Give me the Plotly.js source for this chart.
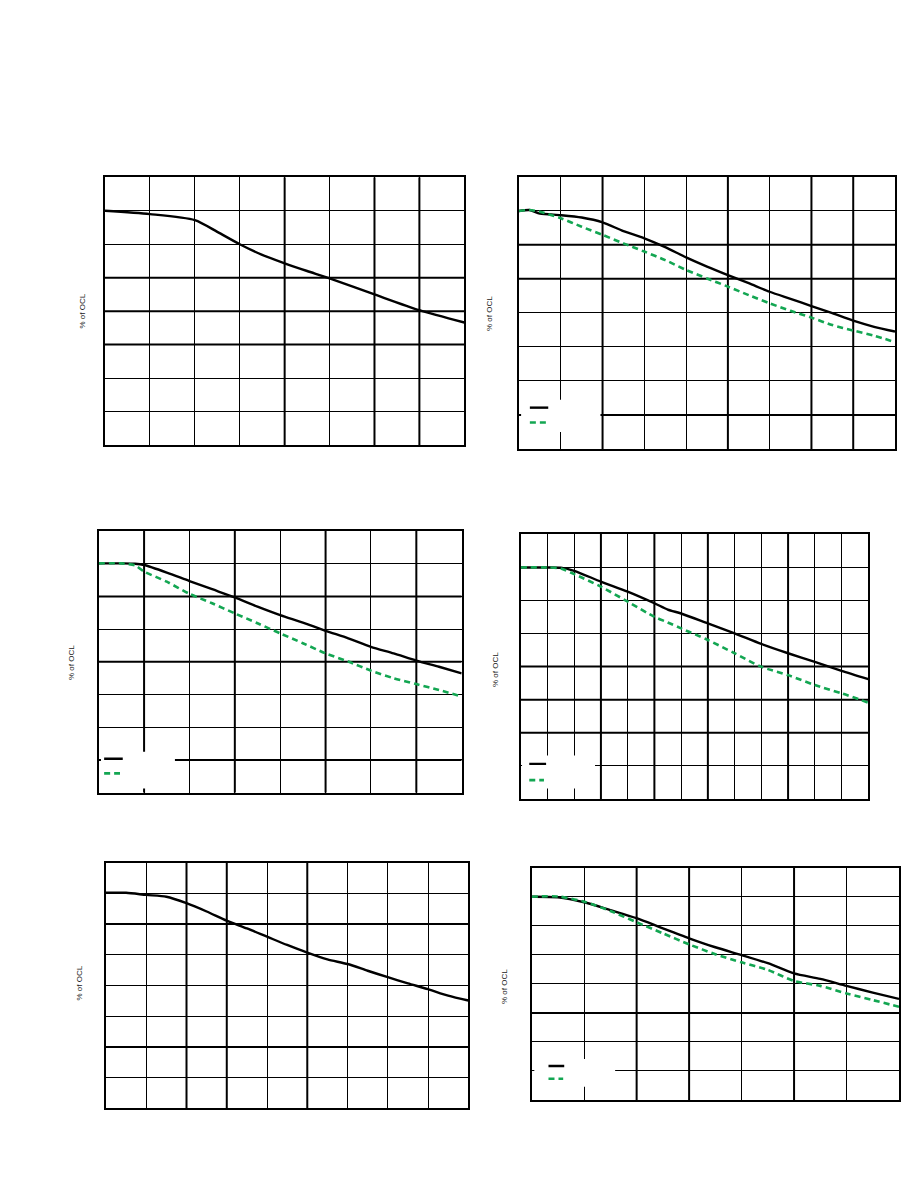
<!DOCTYPE html>
<html><head><meta charset="utf-8">
<script src="https://cdn.plot.ly/plotly-3.0.1.min.js"></script>
<style>html,body{margin:0;padding:0;background:#fff}#chart{width:918px;height:1188px}</style>
</head><body><div id="chart"></div>
<script>
// ---- data (y in grid-row units, x in grid-column units) ----
const yTitle = "% of OCL";

const p1X     = [0, 1, 2, 2.5, 3, 3.5, 4, 4.5, 5, 6, 7, 8];
const p1Solid = [7.0, 6.9, 6.72, 6.37, 6.0, 5.68, 5.43, 5.2, 4.98, 4.5, 4.03, 3.66];

const p2X     = [0, 0.25, 0.5, 1, 1.5, 2, 2.5, 3, 3.5, 4, 4.5, 5, 5.5, 6, 6.5, 7, 7.5, 8, 8.5, 9];
const p2Solid = [6.99, 7.02, 6.92, 6.87, 6.80, 6.66, 6.40, 6.19, 5.93, 5.63, 5.36, 5.11, 4.87, 4.62, 4.41, 4.20, 3.99, 3.77, 3.59, 3.45];
const p2Dash  = [6.99, 7.02, 6.97, 6.78, 6.53, 6.29, 6.04, 5.80, 5.55, 5.26, 5.01, 4.77, 4.52, 4.28, 4.06, 3.86, 3.64, 3.48, 3.33, 3.14];

const p3X     = [0, 0.5, 0.8, 1, 1.5, 2, 2.5, 3, 3.5, 4, 4.5, 5, 5.5, 6, 6.5, 7, 7.5, 8];
const p3Solid = [7.01, 7.01, 7.0, 6.96, 6.73, 6.47, 6.22, 5.97, 5.69, 5.43, 5.20, 4.95, 4.72, 4.46, 4.26, 4.04, 3.85, 3.65];
const p3Dash  = [7.01, 7.01, 6.95, 6.76, 6.45, 6.08, 5.79, 5.48, 5.18, 4.87, 4.57, 4.26, 4.01, 3.73, 3.50, 3.32, 3.14, 2.94];

const p4X     = [0, 1, 1.5, 2, 3, 4, 5, 5.5, 6, 7, 8, 9, 10, 11, 12, 13];
const p4Solid = [6.99, 6.99, 6.98, 6.89, 6.56, 6.26, 5.91, 5.72, 5.60, 5.30, 5.00, 4.68, 4.40, 4.14, 3.87, 3.62];
const p4Dash  = [6.99, 6.99, 6.96, 6.79, 6.41, 5.96, 5.50, 5.33, 5.15, 4.80, 4.40, 3.99, 3.74, 3.44, 3.19, 2.91];

const p5X     = [0, 0.5, 1, 1.5, 2, 2.5, 3, 3.5, 4, 4.5, 5, 5.5, 6, 6.5, 7, 7.5, 8, 8.5, 9];
const p5Solid = [7.02, 7.02, 6.95, 6.89, 6.68, 6.41, 6.11, 5.86, 5.59, 5.32, 5.07, 4.85, 4.70, 4.48, 4.27, 4.07, 3.88, 3.67, 3.51];

const p6X     = [0, 0.5, 1, 1.5, 2, 2.5, 3, 3.5, 4, 4.5, 5, 5.5, 6, 6.5, 7];
const p6Solid = [7.00, 6.98, 6.81, 6.54, 6.26, 5.91, 5.57, 5.26, 4.99, 4.71, 4.36, 4.17, 3.93, 3.70, 3.48];
const p6Dash  = [7.00, 7.01, 6.83, 6.51, 6.12, 5.74, 5.36, 5.02, 4.74, 4.48, 4.10, 3.93, 3.67, 3.44, 3.21];

// ---- layout configuration ----
const W = 918, H = 1188;
const BLACK = "#000000", GREEN = "#13a652";
const DASH = "6px,4px";
const panels = [
  {x: p1X, s: p1Solid, d: null,   cols: 8,  px: [105, 464.3], py: [177.3, 445],   thX: [4, 6, 7], thY: [3, 4, 5], ttl: [81.5, 311], leg: null},
  {x: p2X, s: p2Solid, d: p2Dash, cols: 9,  px: [519, 895],   py: [176.7, 449],   thX: [2, 5, 7, 8], thY: [1, 5, 6], ttl: [490, 313],
   leg: {box: [0.05, 1.95, 0.5, 1.45], sx: [0.26, 0.70], sy: 1.215, dx: [0.26, 0.66], dy: 0.78}},
  {x: p3X, s: p3Solid, d: p3Dash, cols: 8,  px: [98.7, 461.7], py: [531, 792.7],  thX: [1, 3, 5, 7], thY: [1, 4, 6], ttl: [71, 663],
   leg: {box: [0.05, 1.68, 0.13, 1.25], sx: [0.12, 0.53], sy: 1.04, dx: [0.12, 0.47], dy: 0.59}},
  {x: p4X, s: p4Solid, d: p4Dash, cols: 13, px: [520.7, 868.3], py: [534, 799],   thX: [3, 5, 7, 10], thY: [2, 3, 4], ttl: [495, 670],
   leg: {box: [0.05, 2.78, 0.32, 1.31], sx: [0.32, 0.95], sy: 1.06, dx: [0.32, 0.87], dy: 0.57}},
  {x: p5X, s: p5Solid, d: null,   cols: 9,  px: [106, 468.3], py: [862.7, 1108.3], thX: [2, 3, 5], thY: [2, 6], ttl: [78.5, 983], leg: null},
  {x: p6X, s: p6Solid, d: p6Dash, cols: 7,  px: [531.7, 899], py: [867.7, 1100],  thX: [2, 3, 5], thY: [3], ttl: [504, 987],
   leg: {box: [0.05, 1.59, 0.46, 1.41], sx: [0.32, 0.62], sy: 1.17, dx: [0.32, 0.60], dy: 0.73}}
];

const traces = [];
const layout = {
  width: W, height: H, margin: {l: 0, r: 0, t: 0, b: 0},
  paper_bgcolor: "#fff", plot_bgcolor: "#fff", showlegend: false,
  shapes: [], annotations: []
};

panels.forEach((p, i) => {
  const n = i === 0 ? "" : String(i + 1);
  const xa = "x" + n, ya = "y" + n;
  const axCommon = {
    showline: true, mirror: true, linecolor: BLACK, linewidth: 2,
    showgrid: true, gridcolor: BLACK, gridwidth: 1, zeroline: false,
    showticklabels: false, ticks: "", dtick: 1, tick0: 0, fixedrange: true
  };
  layout["xaxis" + n] = Object.assign({}, axCommon, {
    domain: [p.px[0] / W, p.px[1] / W], range: [0, p.cols], anchor: ya
  });
  layout["yaxis" + n] = Object.assign({}, axCommon, {
    domain: [1 - p.py[1] / H, 1 - p.py[0] / H], range: [0, 8], anchor: xa
  });

  // thicker grid lines
  p.thX.forEach(v => layout.shapes.push({type: "line", layer: "below", xref: xa, yref: ya,
    x0: v, x1: v, y0: 0, y1: 8, line: {color: BLACK, width: 2}}));
  p.thY.forEach(v => layout.shapes.push({type: "line", layer: "below", xref: xa, yref: ya,
    x0: 0, x1: p.cols, y0: v, y1: v, line: {color: BLACK, width: 2}}));

  traces.push({x: p.x, y: p.s, xaxis: xa, yaxis: ya, type: "scatter", mode: "lines",
    line: {color: BLACK, width: 2.4, shape: "spline", smoothing: 0.7}, hoverinfo: "skip"});
  if (p.d) {
    traces.push({x: p.x, y: p.d, xaxis: xa, yaxis: ya, type: "scatter", mode: "lines",
      line: {color: GREEN, width: 2.6, dash: DASH, shape: "spline", smoothing: 0.7}, hoverinfo: "skip"});
  }

  if (p.leg) {
    const L = p.leg;
    layout.shapes.push({type: "rect", layer: "above", xref: xa, yref: ya,
      x0: L.box[0], x1: L.box[1], y0: L.box[2], y1: L.box[3], fillcolor: "#fff", line: {width: 0}});
    layout.shapes.push({type: "line", layer: "above", xref: xa, yref: ya,
      x0: L.sx[0], x1: L.sx[1], y0: L.sy, y1: L.sy, line: {color: BLACK, width: 2.4}});
    layout.shapes.push({type: "line", layer: "above", xref: xa, yref: ya,
      x0: L.dx[0], x1: L.dx[1], y0: L.dy, y1: L.dy, line: {color: GREEN, width: 2.6, dash: DASH}});
  }

  layout.annotations.push({text: yTitle, xref: "paper", yref: "paper",
    x: p.ttl[0] / W, y: 1 - p.ttl[1] / H, textangle: -90, showarrow: false,
    xanchor: "center", yanchor: "middle",
    font: {family: "Liberation Sans, Arial, sans-serif", size: 8, color: "#222"}});
});

Plotly.newPlot("chart", traces, layout, {displayModeBar: false, staticPlot: true});
</script>
</body></html>
